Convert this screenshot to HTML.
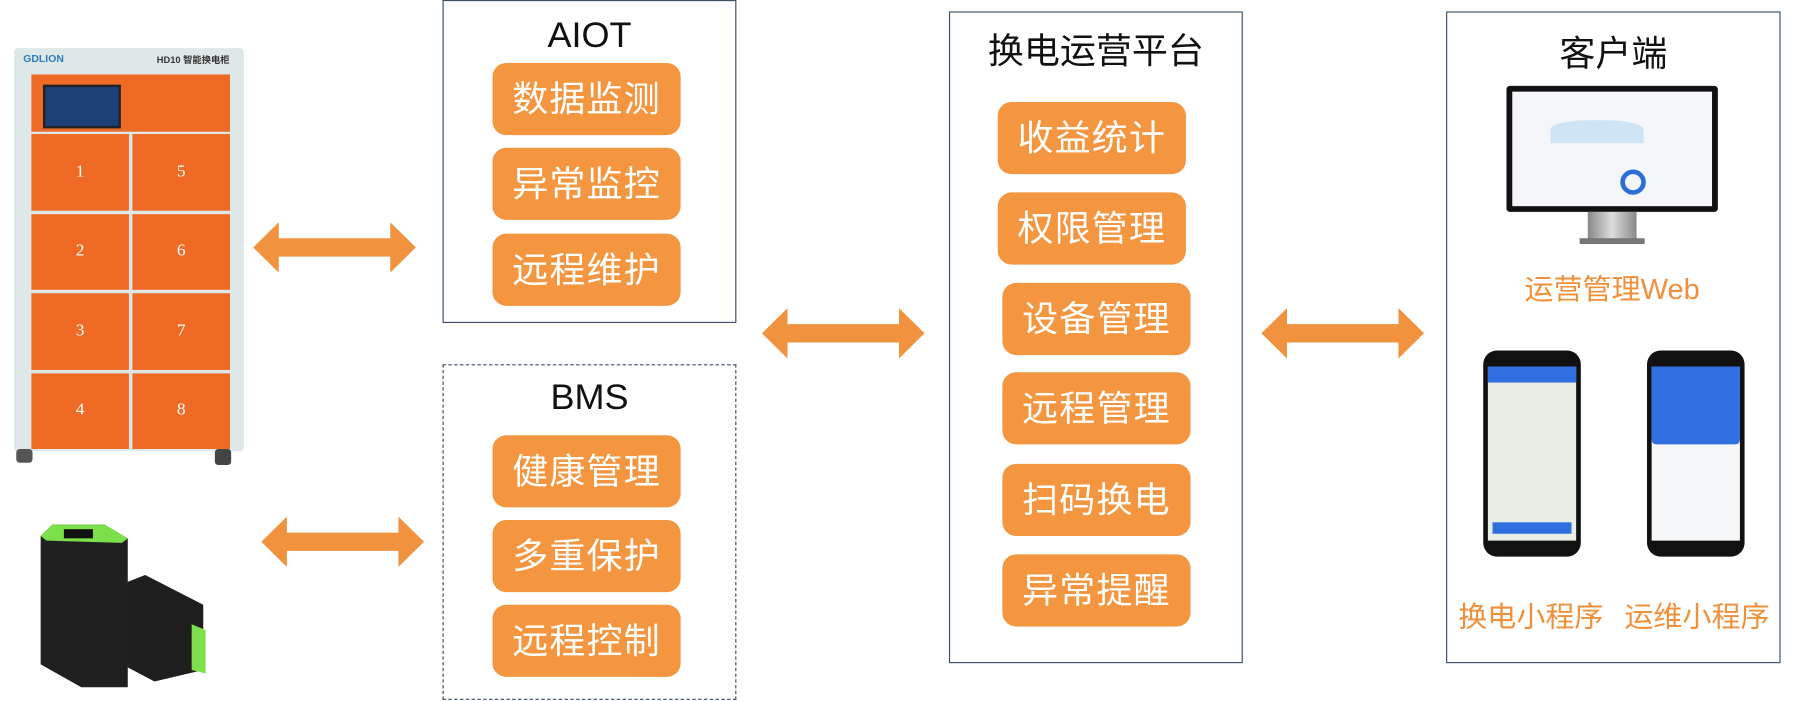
<!DOCTYPE html>
<html><head><meta charset="utf-8"><style>
html,body{margin:0;padding:0;background:#fff;}
body{width:1798px;height:701px;overflow:hidden;position:relative;}
#w{position:absolute;left:0;top:0;width:1548px;height:612px;transform-origin:0 0;transform:scale(1.1615,1.1454);font-family:"Liberation Sans","Noto Sans CJK SC",sans-serif;}
.box{position:absolute;border:1.5px solid #3a4f66;box-sizing:border-box;}
.dash{border:1.5px dashed #3a4f66;}
.t{position:absolute;left:0;right:0;text-align:center;font-size:31px;color:#111;}
.p{position:absolute;width:162px;height:63px;background:#f4953f;border-radius:12px;color:#fff;font-size:31px;line-height:63px;text-align:center;letter-spacing:1px;}
.a{position:absolute;}
.o{position:absolute;color:#f0903a;font-size:25px;text-align:center;white-space:nowrap;}
</style></head><body><div id="w">

<!-- cabinet -->
<div style="position:absolute;left:12px;top:42px;width:198px;height:352px;background:#dfe8e8;border-radius:3px;"></div>
<div style="position:absolute;left:20px;top:46px;font-size:9px;font-weight:bold;color:#2a7fc0;">GDLION</div>
<div style="position:absolute;left:135px;top:47px;font-size:8px;font-weight:bold;color:#333;">HD10 智能换电柜</div>
<div style="position:absolute;left:27px;top:65px;width:171px;height:50px;background:#ef6a24;"></div>
<div style="position:absolute;left:37px;top:74px;width:63px;height:34px;background:#1d3f78;border:2px solid #222;"></div>
<div style="position:absolute;left:27px;top:117px;width:171px;height:275px;display:grid;grid-template-columns:1fr 1fr;grid-template-rows:repeat(4,1fr);gap:3px;">
<div style="background:#ef6a24;color:#fff;font:15px 'Liberation Serif';display:flex;align-items:center;justify-content:center;">1</div>
<div style="background:#ef6a24;color:#fff;font:15px 'Liberation Serif';display:flex;align-items:center;justify-content:center;">5</div>
<div style="background:#ef6a24;color:#fff;font:15px 'Liberation Serif';display:flex;align-items:center;justify-content:center;">2</div>
<div style="background:#ef6a24;color:#fff;font:15px 'Liberation Serif';display:flex;align-items:center;justify-content:center;">6</div>
<div style="background:#ef6a24;color:#fff;font:15px 'Liberation Serif';display:flex;align-items:center;justify-content:center;">3</div>
<div style="background:#ef6a24;color:#fff;font:15px 'Liberation Serif';display:flex;align-items:center;justify-content:center;">7</div>
<div style="background:#ef6a24;color:#fff;font:15px 'Liberation Serif';display:flex;align-items:center;justify-content:center;">4</div>
<div style="background:#ef6a24;color:#fff;font:15px 'Liberation Serif';display:flex;align-items:center;justify-content:center;">8</div>
</div>
<div style="position:absolute;left:14px;top:392px;width:14px;height:12px;background:#555;border-radius:3px;"></div>
<div style="position:absolute;left:185px;top:392px;width:14px;height:14px;background:#444;border-radius:3px;"></div>

<!-- battery -->
<svg class="a" style="left:25px;top:450px" width="160" height="155">
<polygon points="80,60 100,52 150,78 150,135 108,145 80,130" fill="#1e1e1e"/>
<polygon points="140,95 152,100 152,138 140,135" fill="#7be04a"/>
<polygon points="10,18 20,8 65,8 85,20 85,150 45,150 10,130" fill="#202020"/>
<polygon points="10,18 20,8 65,8 85,20 80,24 15,22" fill="#7be04a"/>
<rect x="30" y="12" width="25" height="8" fill="#111"/>
</svg>

<!-- arrows -->
<svg class="a" style="left:0;top:0" width="1548" height="612">
<defs><polygon id="ar" points="0,22 22,0 22,14 118,14 118,0 140,22 118,44 118,30 22,30 22,44" fill="#f0923e"/></defs>
<use href="#ar" x="218" y="194"/>
<use href="#ar" x="225" y="451"/>
<use href="#ar" x="656" y="269"/>
<use href="#ar" x="1086" y="269"/>
</svg>

<!-- AIOT -->
<div class="box" style="left:381px;top:0;width:253px;height:282px;">
<div class="t" style="top:12px;">AIOT</div></div>
<div class="p" style="left:424px;top:55px;">数据监测</div>
<div class="p" style="left:424px;top:129px;">异常监控</div>
<div class="p" style="left:424px;top:204px;">远程维护</div>

<!-- BMS -->
<div class="box dash" style="left:381px;top:318px;width:253px;height:293px;">
<div class="t" style="top:10px;">BMS</div></div>
<div class="p" style="left:424px;top:380px;">健康管理</div>
<div class="p" style="left:424px;top:454px;">多重保护</div>
<div class="p" style="left:424px;top:528px;">远程控制</div>

<!-- platform -->
<div class="box" style="left:817px;top:10px;width:253px;height:569px;">
<div class="t" style="top:8px;">换电运营平台</div></div>
<div class="p" style="left:859px;top:89px;">收益统计</div>
<div class="p" style="left:859px;top:168px;">权限管理</div>
<div class="p" style="left:863px;top:247px;">设备管理</div>
<div class="p" style="left:863px;top:325px;">远程管理</div>
<div class="p" style="left:863px;top:405px;">扫码换电</div>
<div class="p" style="left:863px;top:484px;">异常提醒</div>

<!-- client -->
<div class="box" style="left:1245px;top:10px;width:288px;height:569px;">
<div class="t" style="top:10px;">客户端</div></div>
<div style="position:absolute;left:1297px;top:75px;width:182px;height:110px;background:#111;border-radius:3px;"></div>
<div style="position:absolute;left:1302px;top:80px;width:172px;height:100px;background:#f4f6fa;"></div>
<div style="position:absolute;left:1335px;top:105px;width:80px;height:20px;background:#cfe4f4;border-radius:40% 40% 0 0;"></div>
<div style="position:absolute;left:1395px;top:148px;width:22px;height:22px;border:4px solid #2b6fd6;border-radius:50%;box-sizing:border-box;"></div>
<div style="position:absolute;left:1367px;top:185px;width:42px;height:24px;background:linear-gradient(90deg,#888,#ddd,#888);"></div>
<div style="position:absolute;left:1360px;top:208px;width:56px;height:5px;background:#777;"></div>
<div class="o" style="left:1297px;top:233px;width:182px;">运营管理Web</div>

<div style="position:absolute;left:1277px;top:306px;width:84px;height:180px;background:#111;border-radius:12px;"></div>
<div style="position:absolute;left:1281px;top:320px;width:76px;height:152px;background:#e8eee4;"></div>
<div style="position:absolute;left:1281px;top:320px;width:76px;height:14px;background:#2f6fe0;"></div>
<div style="position:absolute;left:1285px;top:456px;width:68px;height:10px;background:#2f6fe0;"></div>
<div style="position:absolute;left:1418px;top:306px;width:84px;height:180px;background:#111;border-radius:12px;"></div>
<div style="position:absolute;left:1422px;top:320px;width:76px;height:152px;background:#f6f7f9;"></div>
<div style="position:absolute;left:1422px;top:320px;width:76px;height:68px;background:#2f6fe0;border-radius:0 0 4px 4px;"></div>
<div class="o" style="left:1250px;top:519px;width:136px;">换电小程序</div>
<div class="o" style="left:1393px;top:519px;width:136px;">运维小程序</div>
</div></body></html>
